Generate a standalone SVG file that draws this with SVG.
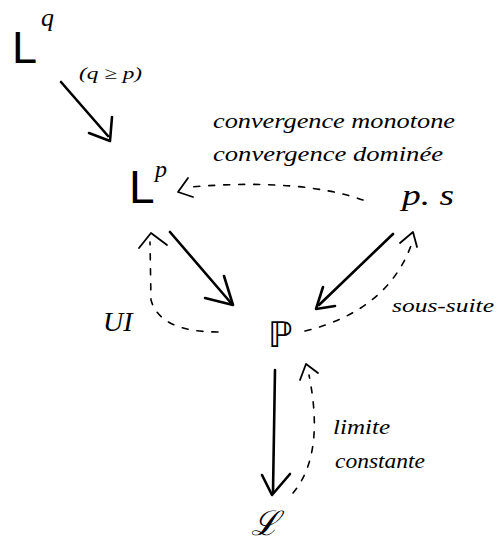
<svg xmlns="http://www.w3.org/2000/svg" width="500" height="547" viewBox="0 0 500 547">
  <style>
    .sym { font-family: "Liberation Sans", "DejaVu Sans", sans-serif; fill: #000; }
    .hand { font-family: "Liberation Serif", "DejaVu Serif", serif; font-style: italic; fill: #000; }
    .solid { fill: none; stroke: #000; stroke-width: 2.6; stroke-linecap: round; stroke-linejoin: round; }
    .dash { fill: none; stroke: #000; stroke-width: 1.6; stroke-dasharray: 6 9; stroke-linecap: round; }
    .head { fill: none; stroke: #000; stroke-width: 1.8; stroke-linecap: round; stroke-linejoin: round; }
  </style>
  <rect width="500" height="547" fill="#fff"/>

  <!-- nodes -->
  <g id="node-Lq">
    <text class="sym" x="12" y="63" font-size="45" font-weight="300">L</text>
    <text class="hand" x="41" y="26" font-size="26">q</text>
    <text class="hand" x="79" y="79" font-size="17" textLength="63" lengthAdjust="spacingAndGlyphs">(q ≥ p)</text>
  </g>
  <g id="node-Lp">
    <text class="sym" x="129" y="203" font-size="46">L</text>
    <text class="hand" x="155" y="177" font-size="24">p</text>
  </g>
  <g id="node-ps">
    <text class="hand" x="402" y="205" font-size="30" textLength="52" lengthAdjust="spacingAndGlyphs">p. s</text>
  </g>
  <g id="node-UI">
    <text class="hand" x="103" y="331" font-size="28">UI</text>
  </g>
  <g id="node-P">
    <text class="sym" x="268" y="347" font-size="35">ℙ</text>
  </g>
  <g id="node-law">
    <text class="hand" x="251" y="535" font-size="34">ℒ</text>
  </g>

  <!-- connectors -->
  <g id="connectors">
    <!-- Lq to Lp -->
    <path class="solid" d="M61 82 L108 136"/>
    <path class="solid" d="M89 133 L110 141 L112 117"/>
    <!-- Lp to P -->
    <path class="solid" d="M170 232 L231 303"/>
    <path class="solid" d="M205 298 L233 305 L224 276"/>
    <!-- p.s to P -->
    <path class="solid" d="M393 234 L319 305"/>
    <path class="solid" d="M323 287 L316 309 L335 306"/>
    <!-- P to law -->
    <path class="solid" d="M275 370 L273 492"/>
    <path class="solid" d="M262 475 L272 495 L290 474"/>

    <!-- p.s to Lp, dashed -->
    <path class="dash" d="M363 200 Q300 178 190 187"/>
    <path class="head" d="M188 178 L178 192 L193 197"/>
    <!-- P to Lp via UI, dashed -->
    <path class="dash" d="M218 332 Q160 332 151 300 L150 242"/>
    <path class="head" d="M139 248 L151 233 L167 245"/>
    <!-- P to p.s, dashed -->
    <path class="dash" d="M305 331 Q390 310 413 240"/>
    <path class="head" d="M400 243 L413 232 L417 247"/>
    <!-- law to P, dashed -->
    <path class="dash" d="M293 493 Q325 455 309 375"/>
    <path class="head" d="M300 380 L306 364 L318 373"/>
  </g>

  <!-- labels -->
  <text class="hand" x="213" y="128" font-size="20" textLength="242" lengthAdjust="spacingAndGlyphs">convergence monotone</text>
  <text class="hand" x="213" y="161" font-size="20" textLength="230" lengthAdjust="spacingAndGlyphs">convergence dominée</text>
  <text class="hand" x="392" y="312" font-size="19" textLength="102" lengthAdjust="spacingAndGlyphs">sous-suite</text>
  <text class="hand" x="333" y="434" font-size="20" textLength="57" lengthAdjust="spacingAndGlyphs">limite</text>
  <text class="hand" x="335" y="468" font-size="20" textLength="90" lengthAdjust="spacingAndGlyphs">constante</text>
</svg>
